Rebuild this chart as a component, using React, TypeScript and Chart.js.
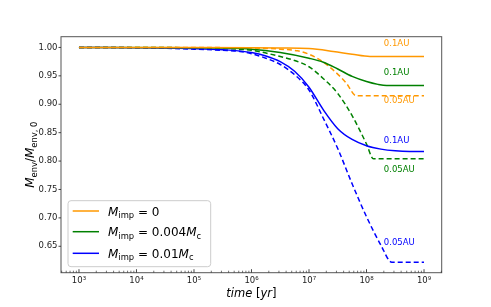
import React, { useEffect, useRef } from "react";
import { Chart, registerables } from "chart.js";

Chart.register(...registerables);

// ---------- data ----------
const ORANGE = "#ff9800";
const GREEN = "#008000";
const BLUE = "#0000ff";

// M_imp = 0, a = 0.1 AU (solid)
const tOrange01 = [1e3, 1e5, 1e6, 3.16e6, 1e7, 2.63e7, 5.62e7, 1.15e8, 1e9];
const vOrange01 = [1.0, 1.0, 0.9995, 0.999, 0.998, 0.993, 0.988, 0.984, 0.984];
// M_imp = 0, a = 0.05 AU (dashed)
const tOrange005 = [1e3, 1e5, 1e6, 3.16e6, 6.31e6, 1e7, 1.78e7, 3.47e7, 4.47e7, 6.61e7, 1e9];
const vOrange005 = [1.0, 0.9998, 0.999, 0.997, 0.994, 0.988, 0.974, 0.949, 0.937, 0.915, 0.915];
// M_imp = 0.004 Mc, 0.1 AU (solid)
const tGreen01 = [1e3, 1e5, 1e6, 3.16e6, 1e7, 1.78e7, 3.16e7, 5.62e7, 1e8, 1.58e8, 2.24e8, 1e9];
const vGreen01 = [1.0, 0.9995, 0.997, 0.991, 0.981, 0.974, 0.962, 0.949, 0.94, 0.935, 0.933, 0.933];
// M_imp = 0.004 Mc, 0.05 AU (dashed)
const tGreen005 = [1e3, 1e5, 3.16e5, 1e6, 3.16e6, 5.62e6, 1e7, 1.78e7, 3.16e7, 5.62e7, 1e8, 1.32e8, 1e9];
const vGreen005 = [1.0, 0.9995, 0.998, 0.995, 0.984, 0.977, 0.966, 0.945, 0.919, 0.88, 0.83, 0.804, 0.804];
// M_imp = 0.01 Mc, 0.1 AU (solid)
const tBlue01 = [1e3, 1e4, 1e5, 3.16e5, 1e6, 1.78e6, 3.16e6, 5.62e6, 1e7, 1.78e7, 3.16e7, 5.62e7, 1e8, 1.78e8, 3.16e8, 5.62e8, 1e9];
const vBlue01 = [1.0, 0.9995, 0.998, 0.996, 0.991, 0.985, 0.975, 0.958, 0.93, 0.89, 0.857, 0.838, 0.827, 0.821, 0.818, 0.817, 0.817];
// M_imp = 0.01 Mc, 0.05 AU (dashed)
const tBlue005 = [1e3, 1e4, 1e5, 3.16e5, 6.31e5, 1e6, 1.78e6, 3.16e6, 5.62e6, 1e7, 1.78e7, 3.16e7, 5.62e7, 1e8, 1.78e8, 2.75e8, 1e9];
const vBlue005 = [1.0, 0.9995, 0.997, 0.995, 0.993, 0.989, 0.981, 0.97, 0.952, 0.925, 0.875, 0.822, 0.76, 0.702, 0.652, 0.622, 0.622];

// curve annotations
const annText = ["0.1AU", "0.1AU", "0.05AU", "0.1AU", "0.05AU", "0.05AU"];
const annT = [2e8, 2e8, 2e8, 2e8, 2e8, 2e8];
const annV = [1.0065, 0.956, 0.906, 0.835, 0.785, 0.656];
const annColor = [ORANGE, GREEN, ORANGE, BLUE, GREEN, BLUE];

// ticks
const xTickValues = [1e3, 1e4, 1e5, 1e6, 1e7, 1e8, 1e9];
const xTickLabels = ["10³", "10⁴", "10⁵", "10⁶", "10⁷", "10⁸", "10⁹"];
const xMinorMult = [2, 3, 4, 5, 6, 7, 8, 9];
const yTickValues = [0.65, 0.7, 0.75, 0.8, 0.85, 0.9, 0.95, 1.0];
const yTickLabels = ["0.65", "0.70", "0.75", "0.80", "0.85", "0.90", "0.95", "1.00"];

const X_MIN = 487;
const X_MAX = 2.03e9;
const Y_MIN = 0.6035;
const Y_MAX = 1.0189;

const SERIES = [
  { t: tOrange01, v: vOrange01, color: ORANGE, dashed: false, label: "M_imp=0, 0.1AU" },
  { t: tGreen01, v: vGreen01, color: GREEN, dashed: false, label: "M_imp=0.004Mc, 0.1AU" },
  { t: tBlue01, v: vBlue01, color: BLUE, dashed: false, label: "M_imp=0.01Mc, 0.1AU" },
  { t: tOrange005, v: vOrange005, color: ORANGE, dashed: true, label: "M_imp=0, 0.05AU" },
  { t: tGreen005, v: vGreen005, color: GREEN, dashed: true, label: "M_imp=0.004Mc, 0.05AU" },
  { t: tBlue005, v: vBlue005, color: BLUE, dashed: true, label: "M_imp=0.01Mc, 0.05AU" },
];

type Part = { t: string; it?: boolean; sub?: boolean };

const legendEntries: { color: string; parts: Part[] }[] = [
  { color: ORANGE, parts: [{ t: "M", it: true }, { t: "imp", sub: true }, { t: " = 0" }] },
  { color: GREEN, parts: [{ t: "M", it: true }, { t: "imp", sub: true }, { t: " = 0.004" }, { t: "M", it: true }, { t: "c", sub: true }] },
  { color: BLUE, parts: [{ t: "M", it: true }, { t: "imp", sub: true }, { t: " = 0.01" }, { t: "M", it: true }, { t: "c", sub: true }] },
];
const yTitle: Part[] = [
  { t: "M", it: true }, { t: "env", sub: true }, { t: "/" }, { t: "M", it: true }, { t: "env, 0", sub: true },
];
const xTitle: Part[] = [{ t: "time", it: true }, { t: " [" }, { t: "yr", it: true }, { t: "]" }];

const FONT = '"DejaVu Sans"';

function drawMath(ctx: CanvasRenderingContext2D, parts: Part[], x: number, y: number, size: number, align: "left" | "center", color: string) {
  const fontFor = (p: Part) => `${p.it ? "italic " : ""}${p.sub ? size * 0.7 : size}px ${FONT}`;
  let w = 0;
  for (const p of parts) {
    ctx.font = fontFor(p);
    w += ctx.measureText(p.t).width;
  }
  let cx = align === "center" ? x - w / 2 : x;
  ctx.textAlign = "left";
  ctx.textBaseline = "alphabetic";
  ctx.fillStyle = color;
  for (const p of parts) {
    ctx.font = fontFor(p);
    ctx.fillText(p.t, cx, y + (p.sub ? size * 0.22 : 0));
    cx += ctx.measureText(p.t).width;
  }
}

const decorPlugin = {
  id: "decor",
  afterDraw(chart: any) {
    const { ctx, chartArea: a, scales } = chart;
    const xs = scales.x;
    const ys = scales.y;
    ctx.save();
    // curve annotations
    ctx.font = `8.5px ${FONT}`;
    ctx.textAlign = "left";
    ctx.textBaseline = "middle";
    annText.forEach((txt, i) => {
      ctx.fillStyle = annColor[i];
      ctx.fillText(txt, xs.getPixelForValue(annT[i]), ys.getPixelForValue(annV[i]));
    });

    // legend
    const lx = 68, ly = 200.7, lw = 142.7, lh = 66;
    ctx.beginPath();
    ctx.roundRect(lx, ly, lw, lh, 3);
    ctx.fillStyle = "rgba(255,255,255,0.8)";
    ctx.fill();
    ctx.strokeStyle = "#cccccc";
    ctx.lineWidth = 1;
    ctx.stroke();
    const rows = [211, 231.7, 253.3];
    legendEntries.forEach((e, i) => {
      ctx.beginPath();
      ctx.strokeStyle = e.color;
      ctx.lineWidth = 1.5;
      ctx.moveTo(72.7, rows[i]);
      ctx.lineTo(99, rows[i]);
      ctx.stroke();
      drawMath(ctx, e.parts, 108, rows[i] + 4.5, 12, "left", "#000");
    });

    // frame
    ctx.strokeStyle = "#555";
    ctx.lineWidth = 1;
    ctx.strokeRect(a.left, a.top, a.right - a.left, a.bottom - a.top);

    // ticks
    ctx.beginPath();
    ctx.strokeStyle = "#333";
    ctx.lineWidth = 0.9;
    for (const v of yTickValues) {
      const y = ys.getPixelForValue(v);
      ctx.moveTo(a.left, y);
      ctx.lineTo(a.left - 2.5, y);
    }
    for (const t of xTickValues) {
      const x = xs.getPixelForValue(t);
      ctx.moveTo(x, a.bottom);
      ctx.lineTo(x, a.bottom - 3.5);
    }
    ctx.stroke();
    ctx.beginPath();
    ctx.lineWidth = 0.7;
    for (const t of [1e2, ...xTickValues]) {
      for (const m of xMinorMult) {
        const v = t * m;
        if (v < X_MIN || v > X_MAX) continue;
        const x = xs.getPixelForValue(v);
        ctx.moveTo(x, a.bottom);
        ctx.lineTo(x, a.bottom - 2);
      }
    }
    ctx.stroke();

    // axis titles
    drawMath(ctx, xTitle, (a.left + a.right) / 2, 297, 11.5, "center", "#000");
    ctx.translate(34, (a.top + a.bottom) / 2);
    ctx.rotate(-Math.PI / 2);
    drawMath(ctx, yTitle, 0, 0, 12, "center", "#000");
    ctx.restore();
  },
};

export default function App() {
  const ref = useRef<HTMLCanvasElement | null>(null);
  useEffect(() => {
    if (!ref.current) return;
    const chart = new Chart(ref.current, {
      type: "line",
      data: {
        datasets: SERIES.map((s) => ({
          label: s.label,
          data: s.t.map((t, i) => ({ x: t, y: s.v[i] })),
          borderColor: s.color,
          backgroundColor: s.color,
          borderWidth: 1.5,
          borderDash: s.dashed ? [5, 3] : [],
          pointRadius: 0,
          cubicInterpolationMode: "monotone",
          fill: false,
        })),
      },
      options: {
        animation: false,
        responsive: false,
        devicePixelRatio: 1,
        layout: { padding: { left: 0, top: 36.7, right: 491 - 441.7, bottom: 0 } },
        plugins: { legend: { display: false }, tooltip: { enabled: false } },
        scales: {
          x: {
            type: "logarithmic",
            min: X_MIN,
            max: X_MAX,
            bounds: "data",
            grid: { display: false, drawTicks: false },
            border: { display: false },
            afterBuildTicks: (s: any) => {
              s.ticks = xTickValues.map((v) => ({ value: v }));
            },
            afterFit: (s: any) => {
              s.height = 307 - 272.7;
            },
            ticks: {
              autoSkip: false,
              maxRotation: 0,
              padding: 3,
              color: "#222",
              font: { family: "DejaVu Sans", size: 8.5 },
              callback: (_v: any, i: number) => xTickLabels[i],
            },
          },
          y: {
            type: "linear",
            min: Y_MIN,
            max: Y_MAX,
            bounds: "data",
            grid: { display: false, drawTicks: false },
            border: { display: false },
            afterBuildTicks: (s: any) => {
              s.ticks = yTickValues.map((v) => ({ value: v }));
            },
            afterFit: (s: any) => {
              s.width = 61;
            },
            ticks: {
              autoSkip: false,
              padding: 3.5,
              color: "#222",
              font: { family: "DejaVu Sans", size: 8.5 },
              callback: (_v: any, i: number) => yTickLabels[i],
            },
          },
        },
      },
      plugins: [decorPlugin],
    } as any);
    return () => chart.destroy();
  }, []);
  return (
    <div style={{ position: "fixed", left: 0, top: 0, width: 491, height: 307, background: "#fff" }}>
      <canvas ref={ref} width={491} height={307} style={{ display: "block", width: 491, height: 307 }} />
    </div>
  );
}
